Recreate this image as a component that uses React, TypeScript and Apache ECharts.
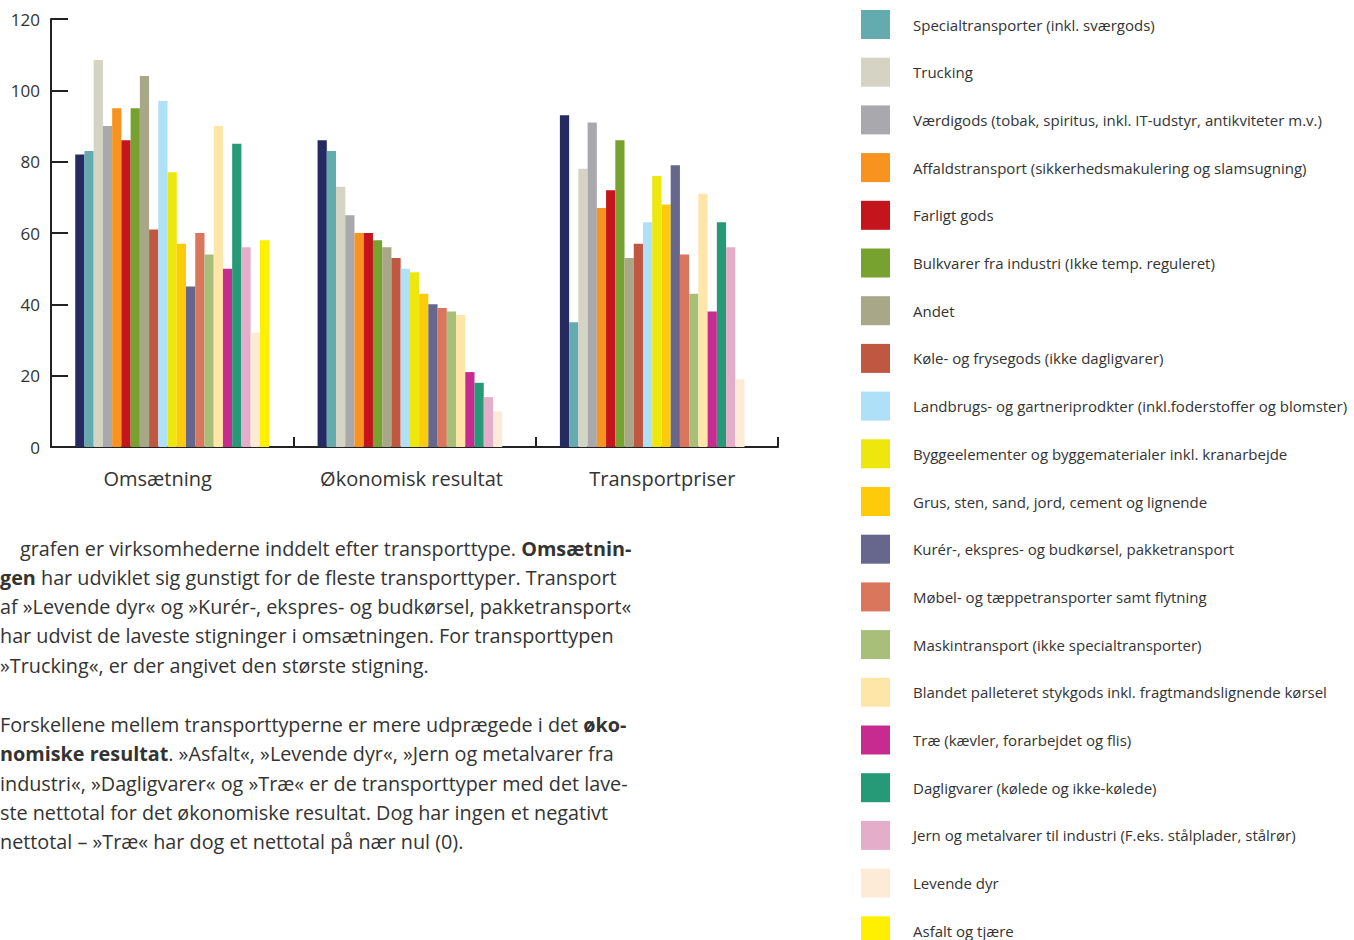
import React, { useEffect, useRef } from "react";
import * as echarts from "echarts";

const categories = ["Omsætning", "Økonomisk resultat", "Transportpriser"];
const yTicks = [0, 20, 40, 60, 80, 100, 120];

const seriesNames = [
  "I alt",
  "Specialtransporter (inkl. sværgods)",
  "Trucking",
  "Værdigods (tobak, spiritus, inkl. IT-udstyr, antikviteter m.v.)",
  "Affaldstransport (sikkerhedsmakulering og slamsugning)",
  "Farligt gods",
  "Bulkvarer fra industri (Ikke temp. reguleret)",
  "Andet",
  "Køle- og frysegods (ikke dagligvarer)",
  "Landbrugs- og gartneriprodkter (inkl.foderstoffer og blomster)",
  "Byggeelementer og byggematerialer inkl. kranarbejde",
  "Grus, sten, sand, jord, cement og lignende",
  "Kurér-, ekspres- og budkørsel, pakketransport",
  "Møbel- og tæppetransporter samt flytning",
  "Maskintransport (ikke specialtransporter)",
  "Blandet palleteret stykgods inkl. fragtmandslignende kørsel",
  "Træ (kævler, forarbejdet og flis)",
  "Dagligvarer (kølede og ikke-kølede)",
  "Jern og metalvarer til industri (F.eks. stålplader, stålrør)",
  "Levende dyr",
  "Asfalt og tjære",
];

const seriesColors = [
  "#252b60", "#64abb0", "#d5d3c3", "#a9a9ad", "#f7931e", "#c4151c", "#78a22f",
  "#a8a787", "#c05841", "#aee0f7", "#ede70e", "#fecb0a", "#67668c", "#da765c",
  "#a8bf7a", "#fde6a8", "#c82b8f", "#269a77", "#e4aecb", "#fdebd7", "#ffef00",
];

// values per series: [Omsætning, Økonomisk resultat, Transportpriser]
const seriesValues: (number | null)[][] = [
  [82, 86, 93],
  [83, 83, 35],
  [108.5, 73, 78],
  [90, 65, 91],
  [95, 60, 67],
  [86, 60, 72],
  [95, 58, 86],
  [104, 56, 53],
  [61, 53, 57],
  [97, 50, 63],
  [77, 49, 76],
  [57, 43, 68],
  [45, 40, 79],
  [60, 39, 54],
  [54, 38, 43],
  [90, 37, 71],
  [50, 21, 38],
  [85, 18, 63],
  [56, 14, 56],
  [32, 10, 19],
  [58, null, null],
];

const paragraphLines: { x: number; parts: [string, boolean][] }[] = [
  { x: 20, parts: [["grafen er virksomhederne inddelt efter transporttype. ", false], ["Omsætnin-", true]] },
  { x: 0, parts: [["gen", true], [" har udviklet sig gunstigt for de fleste transporttyper. Transport", false]] },
  { x: 0, parts: [["af »Levende dyr« og »Kurér-, ekspres- og budkørsel, pakketransport«", false]] },
  { x: 0, parts: [["har udvist de laveste stigninger i omsætningen. For transporttypen", false]] },
  { x: 0, parts: [["»Trucking«, er der angivet den største stigning.", false]] },
  { x: 0, parts: [["Forskellene mellem transporttyperne er mere udprægede i det ", false], ["øko-", true]] },
  { x: 0, parts: [["nomiske resultat", true], [". »Asfalt«, »Levende dyr«, »Jern og metalvarer fra", false]] },
  { x: 0, parts: [["industri«, »Dagligvarer« og »Træ« er de transporttyper med det lave-", false]] },
  { x: 0, parts: [["ste nettotal for det økonomiske resultat. Dog har ingen et negativt", false]] },
  { x: 0, parts: [["nettotal – »Træ« har dog et nettotal på nær nul (0).", false]] },
];
const paragraphY = [549, 578, 607, 636, 666, 725, 754, 784, 813, 842];

const FONT = "Open Sans";
const TEXT_COLOR = "#333333";
const PARA_SIZE = 19.8;

export default function App() {
  const ref = useRef<HTMLDivElement>(null);
  useEffect(() => {
    if (!ref.current) return;
    const chart = echarts.init(ref.current, undefined, { renderer: "svg" });

    const graphics = paragraphLines.map((ln, i) => ({
      type: "text",
      left: ln.x,
      top: paragraphY[i] - 11,
      style: {
        text: ln.parts.map(([t, b]) => `{${b ? "b" : "n"}|${t}}`).join(""),
        rich: {
          n: { fontFamily: FONT, fontSize: PARA_SIZE, fill: TEXT_COLOR, fontWeight: "normal" },
          b: { fontFamily: FONT, fontSize: PARA_SIZE, fill: TEXT_COLOR, fontWeight: "bold" },
        },
      },
    }));

    chart.setOption({
      animation: false,
      backgroundColor: "#ffffff",
      textStyle: { fontFamily: FONT },
      grid: { left: 51, right: 576, top: 19, bottom: 493, containLabel: false },
      legend: {
        orient: "vertical",
        left: 861,
        top: 10,
        height: 1200,
        padding: 0,
        itemWidth: 29,
        itemHeight: 29,
        itemGap: 18.7,
        icon: "rect",
        data: seriesNames.slice(1),
        selectedMode: false,
        textStyle: { fontFamily: FONT, fontSize: 15, color: TEXT_COLOR, padding: [0, 0, 0, 18] },
      },
      xAxis: {
        type: "category",
        data: categories,
        axisLine: { lineStyle: { color: "#222222", width: 2 } },
        axisTick: { show: true, interval: 0, inside: true, length: 10, lineStyle: { color: "#222222", width: 2 } },
        axisLabel: {
          interval: 0,
          hideOverlap: false,
          color: TEXT_COLOR,
          fontSize: 20,
          fontFamily: FONT,
          margin: 21,
          formatter: (v: string, idx: number) => `{c${idx}|${v}}`,
          rich: {
            c0: { fontSize: 20, fontFamily: FONT, color: TEXT_COLOR, padding: [0, 29, 0, 0] },
            c1: { fontSize: 20, fontFamily: FONT, color: TEXT_COLOR, padding: [0, 6, 0, 0] },
            c2: { fontSize: 20, fontFamily: FONT, color: TEXT_COLOR, padding: [0, 0, 0, 11] },
          },
        },
      },
      yAxis: {
        type: "value",
        min: 0,
        max: 120,
        interval: 20,
        splitLine: { show: false },
        axisLine: { show: true, lineStyle: { color: "#222222", width: 2 } },
        axisTick: { show: true, inside: true, length: 17, lineStyle: { color: "#222222", width: 2 } },
        axisLabel: {
          color: TEXT_COLOR,
          fontSize: 17,
          fontFamily: FONT,
          margin: 11,
          formatter: (v: number) => (yTicks.includes(v) ? String(v) : ""),
        },
      },
      series: seriesNames.map((name, i) => ({
        type: "bar",
        name,
        data: seriesValues[i],
        barGap: "0%",
        barCategoryGap: "20%",
        itemStyle: { color: seriesColors[i] },
      })),
      graphic: graphics,
    });
    return () => chart.dispose();
  }, []);
  return (
    <div
      ref={ref}
      style={{ position: "absolute", left: 0, top: 0, width: 1354, height: 940 }}
    />
  );
}
